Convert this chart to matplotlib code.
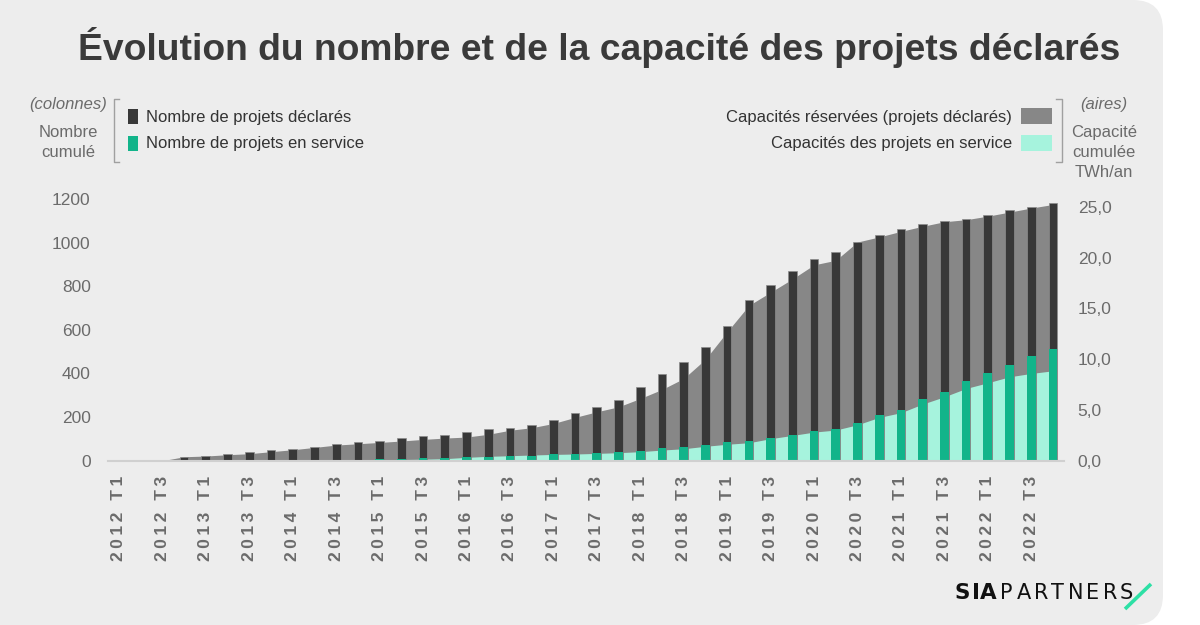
import matplotlib
matplotlib.use('Agg')
import matplotlib.pyplot as plt
from matplotlib.patches import FancyBboxPatch, Rectangle
from matplotlib.lines import Line2D
from matplotlib.transforms import IdentityTransform
from matplotlib.ticker import FuncFormatter

plt.rcParams['font.family'] = ['Liberation Sans', 'DejaVu Sans']

quarters = [
    "2012 T1", "2012 T2", "2012 T3", "2012 T4",
    "2013 T1", "2013 T2", "2013 T3", "2013 T4",
    "2014 T1", "2014 T2", "2014 T3", "2014 T4",
    "2015 T1", "2015 T2", "2015 T3", "2015 T4",
    "2016 T1", "2016 T2", "2016 T3", "2016 T4",
    "2017 T1", "2017 T2", "2017 T3", "2017 T4",
    "2018 T1", "2018 T2", "2018 T3", "2018 T4",
    "2019 T1", "2019 T2", "2019 T3", "2019 T4",
    "2020 T1", "2020 T2", "2020 T3", "2020 T4",
    "2021 T1", "2021 T2", "2021 T3", "2021 T4",
    "2022 T1", "2022 T2", "2022 T3", "2022 T4",
]

projets_declares = [0, 0, 2, 18, 22, 32, 38, 49, 54, 63,
                    76, 84, 89, 103, 113, 119, 131, 145, 151, 165,
                    188, 221, 245, 277, 338, 396, 452, 523, 618, 736,
                    806, 872, 925, 957, 1005, 1037, 1061, 1084, 1101, 1107,
                    1128, 1151, 1165, 1183]

projets_en_service = [0, 0, 0, 0, 0, 0, 0, 0, 0, 0,
                      5, 5, 6, 6, 12, 14, 15, 17, 22, 23,
                      30, 33, 35, 41, 46, 57, 64, 74, 85, 89,
                      105, 119, 138, 147, 171, 211, 232, 281, 316, 365,
                      400, 440, 478, 512]

capacite_reservee = [0, 0, 0, 0.39, 0.46, 0.59, 0.69, 0.89, 1.08, 1.31,
                     1.54, 1.67, 1.80, 1.94, 2.10, 2.23, 2.33, 2.60, 3.00, 3.25,
                     3.67, 4.27, 4.82, 5.31, 6.13, 7.02, 8.10, 10.0, 12.7, 15.3,
                     16.6, 17.9, 19.3, 19.75, 21.55, 22.05, 22.6, 23.1, 23.55, 23.75,
                     24.1, 24.5, 24.9, 25.25]

capacite_en_service = [0, 0, 0, 0, 0, 0, 0, 0, 0, 0.02,
                       0.05, 0.07, 0.09, 0.12, 0.15, 0.20, 0.33, 0.43, 0.49, 0.56,
                       0.62, 0.66, 0.72, 0.79, 0.89, 1.05, 1.18, 1.42, 1.62, 1.77,
                       2.17, 2.49, 2.82, 3.02, 3.54, 4.27, 4.73, 5.58, 6.30, 7.12,
                       7.68, 8.27, 8.60, 8.86]

left_ticks = [0, 200, 400, 600, 800, 1000, 1200]
right_ticks = [0, 5, 10, 15, 20, 25]

C_DARK = '#383838'
C_GREEN = '#12b48a'
C_GRAY = '#878787'
C_TEAL = '#a6f3dd'
C_TXT = '#6b6b6b'
THIN = '\u2009'

W, H = 1200, 625
fig = plt.figure(figsize=(W / 100, H / 100), dpi=100)
fig.patch.set_facecolor('white')

bg = FancyBboxPatch((-40, 0), 1163 + 40, H, boxstyle="round,pad=0,rounding_size=30",
                    transform=IdentityTransform(), facecolor='#ededed', edgecolor='none', zorder=-10)
fig.add_artist(bg)


def fx(px):
    return px / W


def fy(py):
    return 1 - py / H


def tracked(s):
    return THIN.join(list(s))


ax_left, ax_right = 108.1, 1063.8
ax_bottom, ax_top = 460.7, 199.0
ax = fig.add_axes([fx(ax_left), fy(ax_bottom), fx(ax_right - ax_left), (ax_bottom - ax_top) / H])
ax2 = ax.twinx()
ax.set_zorder(2)
ax2.set_zorder(1)
ax.patch.set_visible(False)
ax2.patch.set_visible(False)

x = list(range(len(quarters)))

ax2.fill_between(x, 0, capacite_reservee, color=C_GRAY, lw=0)
ax2.fill_between(x, 0, capacite_en_service, color=C_TEAL, lw=0)

ax.bar(x, projets_declares, width=0.40, color=C_DARK, edgecolor='#8c8c8c', linewidth=0.5)
ax.bar(x, projets_en_service, width=0.40, color=C_GREEN, linewidth=0)

ax.set_xlim(-0.5, len(quarters) - 0.5)
ax.set_ylim(0, 1200)
ax2.set_ylim(0, 25.79)

ax.set_yticks(left_ticks)
ax.set_yticklabels([str(v) for v in left_ticks])
ax2.set_yticks(right_ticks)
ax2.yaxis.set_major_formatter(FuncFormatter(lambda v, p: f"{v:.1f}".replace('.', ',')))

ax.set_xticks(x[::2])
ax.set_xticklabels([tracked(q) for q in quarters[::2]], rotation=90, fontweight='bold',
                   color=C_TXT, fontsize=12.5)

ax.tick_params(axis='y', length=0, pad=12.5, labelsize=12.5, labelcolor=C_TXT)
ax2.tick_params(axis='y', length=0, pad=10, labelsize=12.5, labelcolor=C_TXT)
ax.tick_params(axis='x', length=0, pad=11)
ax2.tick_params(axis='x', length=0)

for a in (ax, ax2):
    for s in ('top', 'left', 'right', 'bottom'):
        a.spines[s].set_visible(False)
ax.spines['bottom'].set_visible(True)
ax.spines['bottom'].set_color('#d0d0d0')
ax.spines['bottom'].set_linewidth(1.5)

# Title
fig.text(fx(599), fy(48), "Évolution du nombre et de la capacité des projets déclarés",
         ha='center', va='center', fontsize=26.8, fontweight='bold', color='#3a3a3a')

# Left legend block
FS = 12
fig.text(fx(68.5), fy(104), "(colonnes)", ha='center', va='center', fontsize=FS,
         style='italic', color=C_TXT)
fig.text(fx(68.5), fy(132), "Nombre", ha='center', va='center', fontsize=FS, color=C_TXT)
fig.text(fx(68.5), fy(152.5), "cumulé", ha='center', va='center', fontsize=FS, color=C_TXT)

br_col = '#a0a0a0'
fig.add_artist(Line2D([fx(119), fx(114), fx(114), fx(119)], [fy(99), fy(99), fy(162), fy(162)],
                      color=br_col, lw=1.0, transform=fig.transFigure))

fig.add_artist(Rectangle((fx(128), fy(124)), fx(10), 15 / H, facecolor=C_DARK,
                         edgecolor='none', transform=fig.transFigure))
fig.add_artist(Rectangle((fx(128), fy(151)), fx(10), 15 / H, facecolor=C_GREEN,
                         edgecolor='none', transform=fig.transFigure))
fig.text(fx(146.5), fy(117.5), "Nombre de projets déclarés", ha='left', va='center',
         fontsize=FS, color='#333333')
fig.text(fx(146.5), fy(144), "Nombre de projets en service", ha='left', va='center',
         fontsize=FS, color='#333333')

# Right legend block
fig.text(fx(1012), fy(117.5), "Capacités réservées (projets déclarés)", ha='right', va='center',
         fontsize=FS, color='#333333')
fig.text(fx(1012), fy(144), "Capacités des projets en service", ha='right', va='center',
         fontsize=FS, color='#333333')
fig.add_artist(Rectangle((fx(1021), fy(123.5)), fx(30.5), 15 / H, facecolor=C_GRAY,
                         edgecolor='none', transform=fig.transFigure))
fig.add_artist(Rectangle((fx(1021), fy(150.5)), fx(30.5), 15.5 / H, facecolor=C_TEAL,
                         edgecolor='none', transform=fig.transFigure))
fig.add_artist(Line2D([fx(1056), fx(1061.5), fx(1061.5), fx(1056)], [fy(99), fy(99), fy(162), fy(162)],
                      color=br_col, lw=1.0, transform=fig.transFigure))
fig.text(fx(1104), fy(104), "(aires)", ha='center', va='center', fontsize=FS,
         style='italic', color=C_TXT)
fig.text(fx(1104), fy(132.5), "Capacité", ha='center', va='center', fontsize=FS, color=C_TXT)
fig.text(fx(1104), fy(152.5), "cumulée", ha='center', va='center', fontsize=FS, color=C_TXT)
fig.text(fx(1104), fy(172.5), "TWh/an", ha='center', va='center', fontsize=FS, color=C_TXT)

# Logo
sia_chars = "SIA"
sia_x = [955, 972, 980]
for ch, px in zip(sia_chars, sia_x):
    fig.text(fx(px), fy(593), ch, ha='left', va='center', fontsize=15.5, fontweight='bold',
             color='#111111', family='DejaVu Sans')
logo_chars = "PARTNERS"
step = 17.1
for k, ch in enumerate(logo_chars):
    fig.text(fx(1000 + k * step), fy(593), ch, ha='left', va='center', fontsize=15,
             color='#111111', family='DejaVu Sans')
fig.add_artist(Line2D([fx(1125), fx(1151)], [fy(609), fy(584)], color='#2de0a5', lw=2.6,
                      transform=fig.transFigure, solid_capstyle='butt'))

fig.savefig('out.png', dpi=100, facecolor=fig.get_facecolor())
